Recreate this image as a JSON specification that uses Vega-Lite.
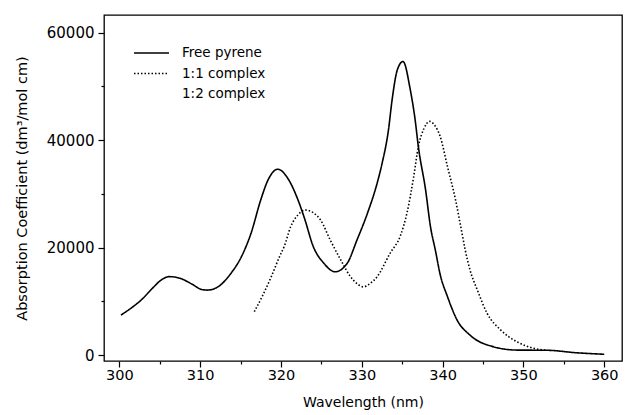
{
  "$schema": "https://vega.github.io/schema/vega-lite/v6.json",
  "width": 518,
  "height": 346,
  "autosize": "none",
  "padding": {"left": 104, "top": 15, "right": 3, "bottom": 54},
  "background": "white",
  "config": {
    "font": "DejaVu Sans",
    "view": {"stroke": "black", "strokeWidth": 1.3},
    "axis": {"labelFont": "DejaVu Sans", "titleFont": "DejaVu Sans", "labelColor": "black", "titleColor": "black", "tickColor": "black", "tickWidth": 1.2, "domain": false, "grid": false, "titleFontWeight": "normal"},
    "legend": {"labelFont": "DejaVu Sans"}
  },
  "data": {"values": [
    {"s": "Free pyrene", "x": 300.2, "y": 7450},
    {"s": "Free pyrene", "x": 301.5, "y": 8800},
    {"s": "Free pyrene", "x": 302.7, "y": 10250},
    {"s": "Free pyrene", "x": 304.2, "y": 12600},
    {"s": "Free pyrene", "x": 305.2, "y": 14000},
    {"s": "Free pyrene", "x": 306.2, "y": 14600},
    {"s": "Free pyrene", "x": 307.5, "y": 14300},
    {"s": "Free pyrene", "x": 309.0, "y": 13200},
    {"s": "Free pyrene", "x": 310.2, "y": 12200},
    {"s": "Free pyrene", "x": 310.9, "y": 12100},
    {"s": "Free pyrene", "x": 312.2, "y": 12700},
    {"s": "Free pyrene", "x": 313.8, "y": 15200},
    {"s": "Free pyrene", "x": 315.1, "y": 18300},
    {"s": "Free pyrene", "x": 316.3, "y": 22700},
    {"s": "Free pyrene", "x": 317.5, "y": 28900},
    {"s": "Free pyrene", "x": 318.4, "y": 32600},
    {"s": "Free pyrene", "x": 319.6, "y": 34600},
    {"s": "Free pyrene", "x": 320.8, "y": 33000},
    {"s": "Free pyrene", "x": 322.1, "y": 28900},
    {"s": "Free pyrene", "x": 322.9, "y": 25500},
    {"s": "Free pyrene", "x": 324.0, "y": 20200},
    {"s": "Free pyrene", "x": 325.3, "y": 17100},
    {"s": "Free pyrene", "x": 326.7, "y": 15500},
    {"s": "Free pyrene", "x": 328.2, "y": 17100},
    {"s": "Free pyrene", "x": 329.4, "y": 21400},
    {"s": "Free pyrene", "x": 330.7, "y": 26400},
    {"s": "Free pyrene", "x": 331.9, "y": 32000},
    {"s": "Free pyrene", "x": 332.5, "y": 35600},
    {"s": "Free pyrene", "x": 333.3, "y": 41900},
    {"s": "Free pyrene", "x": 333.75, "y": 47500},
    {"s": "Free pyrene", "x": 334.4, "y": 53100},
    {"s": "Free pyrene", "x": 335.1, "y": 54650},
    {"s": "Free pyrene", "x": 336.0, "y": 49400},
    {"s": "Free pyrene", "x": 336.6, "y": 43800},
    {"s": "Free pyrene", "x": 337.0, "y": 38800},
    {"s": "Free pyrene", "x": 337.9, "y": 30700},
    {"s": "Free pyrene", "x": 338.5, "y": 23900},
    {"s": "Free pyrene", "x": 339.1, "y": 19560},
    {"s": "Free pyrene", "x": 339.7, "y": 15000},
    {"s": "Free pyrene", "x": 340.6, "y": 10900},
    {"s": "Free pyrene", "x": 341.8, "y": 6500},
    {"s": "Free pyrene", "x": 343.4, "y": 3700},
    {"s": "Free pyrene", "x": 346.3, "y": 1550},
    {"s": "Free pyrene", "x": 349.2, "y": 930},
    {"s": "Free pyrene", "x": 352.9, "y": 900},
    {"s": "Free pyrene", "x": 356.6, "y": 430},
    {"s": "Free pyrene", "x": 360.0, "y": 150},
    {"s": "1:1 complex", "x": 316.7, "y": 8070},
    {"s": "1:1 complex", "x": 317.8, "y": 11300},
    {"s": "1:1 complex", "x": 318.8, "y": 14600},
    {"s": "1:1 complex", "x": 319.9, "y": 18600},
    {"s": "1:1 complex", "x": 320.4, "y": 20200},
    {"s": "1:1 complex", "x": 321.2, "y": 23900},
    {"s": "1:1 complex", "x": 322.1, "y": 26100},
    {"s": "1:1 complex", "x": 323.0, "y": 27000},
    {"s": "1:1 complex", "x": 324.0, "y": 26500},
    {"s": "1:1 complex", "x": 324.9, "y": 25150},
    {"s": "1:1 complex", "x": 326.1, "y": 21400},
    {"s": "1:1 complex", "x": 327.4, "y": 17700},
    {"s": "1:1 complex", "x": 328.6, "y": 14600},
    {"s": "1:1 complex", "x": 329.5, "y": 13200},
    {"s": "1:1 complex", "x": 330.2, "y": 12700},
    {"s": "1:1 complex", "x": 331.0, "y": 13300},
    {"s": "1:1 complex", "x": 331.9, "y": 14600},
    {"s": "1:1 complex", "x": 333.5, "y": 18950},
    {"s": "1:1 complex", "x": 334.8, "y": 22300},
    {"s": "1:1 complex", "x": 335.6, "y": 26500},
    {"s": "1:1 complex", "x": 336.4, "y": 33000},
    {"s": "1:1 complex", "x": 337.0, "y": 38800},
    {"s": "1:1 complex", "x": 337.7, "y": 42200},
    {"s": "1:1 complex", "x": 338.4, "y": 43500},
    {"s": "1:1 complex", "x": 339.0, "y": 42800},
    {"s": "1:1 complex", "x": 339.7, "y": 40700},
    {"s": "1:1 complex", "x": 340.6, "y": 35100},
    {"s": "1:1 complex", "x": 341.6, "y": 28900},
    {"s": "1:1 complex", "x": 342.4, "y": 22700},
    {"s": "1:1 complex", "x": 342.8, "y": 19560},
    {"s": "1:1 complex", "x": 343.4, "y": 15800},
    {"s": "1:1 complex", "x": 344.3, "y": 12100},
    {"s": "1:1 complex", "x": 345.5, "y": 7800},
    {"s": "1:1 complex", "x": 347.2, "y": 4650},
    {"s": "1:1 complex", "x": 349.2, "y": 2480},
    {"s": "1:1 complex", "x": 351.3, "y": 1250},
    {"s": "1:1 complex", "x": 353.0, "y": 900}
  ]},
  "resolve": {"axis": {"x": "independent", "y": "independent"}},
  "layer": [
    {
      "mark": {"type": "line", "interpolate": "monotone", "strokeWidth": 1.6, "clip": true},
      "encoding": {
        "x": {"field": "x", "type": "quantitative",
          "scale": {"domain": [298.1, 362.2], "nice": false, "zero": false},
          "axis": {"orient": "bottom", "values": [300, 310, 320, 330, 340, 350, 360], "tickSize": 6, "labelFontSize": 14.5, "labelPadding": 1, "title": "Wavelength (nm)", "titleFontSize": 14, "titlePadding": 14}},
        "y": {"field": "y", "type": "quantitative",
          "scale": {"domain": [-1100, 63300], "nice": false, "zero": false},
          "axis": {"orient": "left", "values": [0, 20000, 40000, 60000], "format": "d", "tickSize": 6, "labelFontSize": 15, "labelPadding": 4, "title": "Absorption Coefficient (dm³/mol cm)", "titleFontSize": 14.5, "titlePadding": 17}},
        "color": {"field": "s", "type": "nominal",
          "scale": {"domain": ["Free pyrene", "1:1 complex", "1:2 complex"], "range": ["black", "black", "white"]},
          "legend": {"title": null, "orient": "none", "legendX": 29, "legendY": 28, "symbolType": "stroke", "symbolSize": 1225, "symbolStrokeWidth": 1.3, "labelFontSize": 13.5, "labelColor": "black", "labelOffset": 12, "clipHeight": 20, "rowPadding": 0.5}},
        "strokeDash": {"field": "s", "type": "nominal",
          "scale": {"domain": ["Free pyrene", "1:1 complex", "1:2 complex"], "range": [[1, 0], [1.5, 2], [1, 0]]},
          "legend": null}
      }
    },
    {
      "mark": {"type": "point", "opacity": 0},
      "encoding": {
        "x": {"field": "x", "type": "quantitative",
          "axis": {"orient": "bottom", "values": [305, 315, 325, 335, 345, 355], "tickSize": 3, "labels": false, "title": null}},
        "y": {"field": "y", "type": "quantitative",
          "axis": {"orient": "left", "values": [10000, 30000, 50000], "tickSize": 3, "labels": false, "title": null}}
      }
    }
  ]
}
